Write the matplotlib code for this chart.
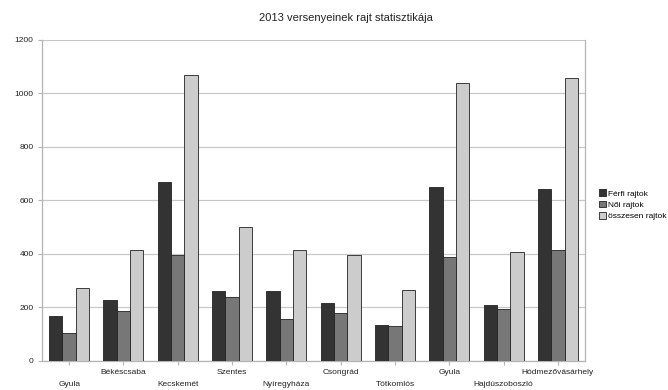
import matplotlib
matplotlib.use("Agg")
import matplotlib.pyplot as plt
import numpy as np

plt.rcParams['font.family'] = ['Liberation Sans', 'DejaVu Sans']

cities = ["Gyula", "Békéscsaba", "Kecskemét", "Szentes", "Nyíregyháza",
          "Csongrád", "Tótkomlós", "Gyula", "Hajdúszoboszló", "Hódmezővásárhely"]
ferfi = [167, 227, 669, 260, 260, 217, 132, 650, 209, 641]
noi = [102, 186, 395, 237, 156, 177, 130, 386, 194, 415]
osszesen = [270, 414, 1067, 498, 415, 395, 265, 1038, 406, 1055]
series_names = ["Férfi rajtok", "Női rajtok", "összesen rajtok"]
colors = ["#333333", "#777777", "#cccccc"]

fig = plt.figure(figsize=(6.68, 3.9), dpi=100)
ax = fig.add_axes([42 / 668, 1 - 360.7 / 390, (585 - 42) / 668, (360.7 - 39.5) / 390])

x = np.arange(len(cities))
w = 0.245
for i, (vals, name, c) in enumerate(zip([ferfi, noi, osszesen], series_names, colors)):
    ax.bar(x + (i - 1) * w, vals, width=w, color=c, edgecolor="#222222",
           linewidth=0.6, label=name, zorder=3)

ax.set_xlim(-0.5, len(cities) - 0.5)
ax.set_ylim(0, 1200)
ax.set_yticks(range(0, 1201, 200))
ax.yaxis.grid(True, color="#c8c8c8", linewidth=0.9, zorder=0)
for s in ["left", "right", "top", "bottom"]:
    ax.spines[s].set_color("#b4b4b4")
    ax.spines[s].set_linewidth(0.9)
ax.spines["top"].set_visible(False)

ax.set_xticks(x)
ax.set_xticklabels([])
ax.tick_params(axis="both", colors="#b4b4b4", length=3, width=0.8, labelsize=6)
ax.tick_params(axis="y", labelcolor="#222222", pad=3)

for i, name in enumerate(cities):
    y_off = 373 if i % 2 == 1 else 384
    ax.annotate(name, xy=(i, 0), xycoords=("data", "axes fraction"),
                xytext=(0, -(y_off - 360.7)), textcoords="offset pixels",
                ha="center", va="center", fontsize=6, color="#222222")

fig.text(346 / 668, 1 - 18 / 390, "2013 versenyeinek rajt statisztikája",
         ha="center", va="center", fontsize=8, color="#222222")

leg = ax.legend(loc="center left", bbox_to_anchor=(1.02, 0.485), frameon=False,
                fontsize=6, handlelength=0.8, handleheight=0.8, handletextpad=0.3,
                labelspacing=0.4, borderaxespad=0)

fig.savefig("out.png", dpi=100)
